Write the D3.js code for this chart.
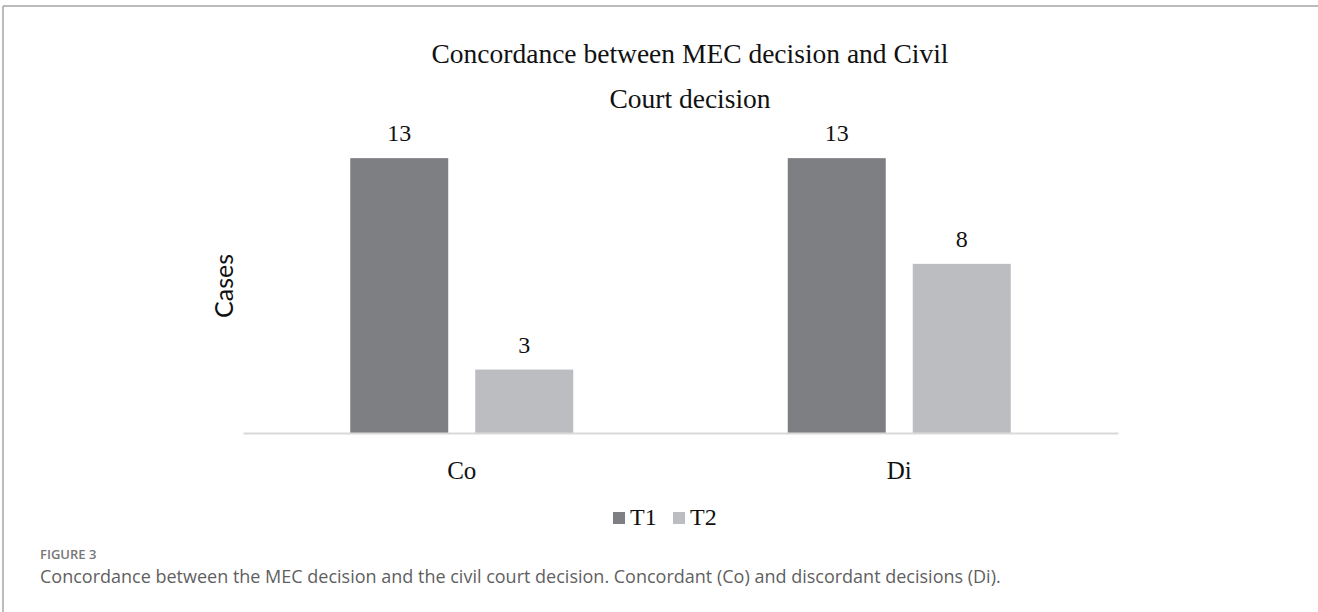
<!DOCTYPE html>
<html>
<head>
<meta charset="utf-8">
<script src="https://cdn.jsdelivr.net/npm/d3@7"></script>
<style>
  html, body { margin: 0; padding: 0; background: #fff; }
  svg { display: block; }
</style>
</head>
<body>
<svg id="chart" width="1318" height="612"></svg>
<script>
const categories = ["Co", "Di"];
const seriesNames = ["T1", "T2"];
const valuesT1 = [13, 13];
const valuesT2 = [3, 8];
const titleLines = ["Concordance between MEC decision and Civil", "Court decision"];
const yAxisLabel = "Cases";
const figureLabel = "FIGURE 3";
const captionText = "Concordance between the MEC decision and the civil court decision. Concordant (Co) and discordant decisions (Di).";

const colors = { T1: "#7e7f83", T2: "#bcbdc1" };
const serif = "'Liberation Serif', 'DejaVu Serif', serif";

const svg = d3.select("#chart");
svg.append("rect").attr("width", 1318).attr("height", 612).attr("fill", "#fff");

// frame
svg.append("line").attr("x1", 3).attr("x2", 1318).attr("y1", 6).attr("y2", 6)
  .attr("stroke", "#a6a6a6").attr("stroke-width", 1.5);
svg.append("line").attr("x1", 3).attr("x2", 3).attr("y1", 6).attr("y2", 612)
  .attr("stroke", "#a6a6a6").attr("stroke-width", 1.5);

const plot = { left: 243, right: 1118, top: 137, bottom: 433 };

const x0 = d3.scaleBand().domain(categories).range([plot.left, plot.right]).paddingInner(0).paddingOuter(0);
const x1 = d3.scaleBand().domain(seriesNames).range([0, x0.bandwidth()]).paddingInner(0.216).paddingOuter(0.858);
const y = d3.scaleLinear().domain([0, 14]).range([plot.bottom, plot.top]);

const data = categories.map((c, i) => ({ cat: c, vals: [
  { s: "T1", v: valuesT1[i] }, { s: "T2", v: valuesT2[i] }
]}));

// title
titleLines.forEach((t, i) => {
  svg.append("text").attr("x", 690).attr("y", 63 + i * 44.5)
    .attr("text-anchor", "middle").attr("font-family", serif).attr("font-size", 27.5)
    .attr("fill", "#111").text(t);
});

const groups = svg.selectAll("g.cat").data(data).join("g")
  .attr("class", "cat").attr("transform", d => `translate(${x0(d.cat)},0)`);

groups.selectAll("rect").data(d => d.vals).join("rect")
  .attr("x", d => x1(d.s)).attr("width", x1.bandwidth())
  .attr("y", d => y(d.v)).attr("height", d => y(0) - y(d.v))
  .attr("fill", d => colors[d.s]);

groups.selectAll("text.val").data(d => d.vals).join("text")
  .attr("class", "val")
  .attr("x", d => x1(d.s) + x1.bandwidth() / 2).attr("y", d => y(d.v) - 17)
  .attr("text-anchor", "middle").attr("font-family", serif).attr("font-size", 24)
  .attr("fill", "#111").text(d => d.v);

// x axis
const xAxis = svg.append("g").attr("transform", `translate(0,${plot.bottom})`)
  .call(d3.axisBottom(x0).tickSize(0).tickPadding(28));
xAxis.select(".domain").attr("stroke", "#d9d9d9").attr("stroke-width", 2);
xAxis.selectAll(".tick text").attr("font-family", serif).attr("font-size", 25).attr("fill", "#111");

// y label
svg.append("text").attr("transform", "translate(233,286) rotate(-90)")
  .attr("text-anchor", "middle").attr("font-family", "Lato, 'Open Sans', sans-serif")
  .attr("font-size", 25).attr("fill", "#111").text(yAxisLabel);

// legend
const lg = svg.append("g").attr("transform", "translate(613,525)");
const items = [{ s: "T1", x: 0 }, { s: "T2", x: 60 }];
items.forEach(it => {
  lg.append("rect").attr("x", it.x).attr("y", -13).attr("width", 12).attr("height", 12).attr("fill", colors[it.s]);
  lg.append("text").attr("x", it.x + 17).attr("y", 0).attr("font-family", serif)
    .attr("font-size", 24).attr("fill", "#111").text(it.s);
});

// caption
svg.append("text").attr("x", 40).attr("y", 559).attr("font-family", "'Open Sans', sans-serif")
  .attr("font-size", 13).attr("font-weight", 600).attr("fill", "#777").text(figureLabel);
svg.append("text").attr("x", 40).attr("y", 583).attr("font-family", "'Open Sans', sans-serif")
  .attr("font-size", 18).attr("fill", "#5f5f5f").text(captionText);
</script>
</body>
</html>
